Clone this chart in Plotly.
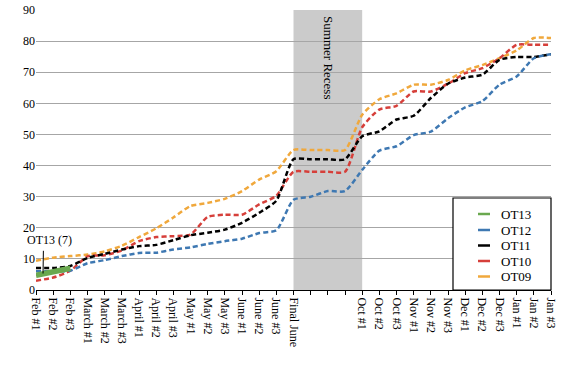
import plotly.graph_objects as go

categories = ["Feb #1", "Feb #2", "Feb #3", "March #1", "March #2", "March #3",
              "April #1", "April #2", "April #3", "May #1", "May #2", "May #3",
              "June #1", "June #2", "June #3", "Final June", " ", "  ", "   ",
              "Oct #1", "Oct #2", "Oct #3", "Nov #1", "Nov #2", "Nov #3",
              "Dec #1", "Dec #2", "Dec #3", "Jan #1", "Jan #2", "Jan #3"]

ot09 = [9.4, 10.4, 10.9, 11.4, 12.4, 14.2, 17.0, 19.8, 23.3, 27.0, 28.0, 29.3,
        31.8, 35.5, 38.2, 45, 45, 45, 45, 56.3, 61.3, 63.2, 66, 66, 67.5,
        70.6, 72.3, 74.5, 77, 81, 81]
ot10 = [3.0, 4.0, 6.2, 10.8, 11.2, 12.7, 15.7, 17.0, 17.3, 17.8, 23.5, 24.2,
        24.2, 27.5, 30.3, 38, 38, 38, 38, 52.3, 58, 59.2, 63.8, 63.8, 66.3,
        69.7, 71.3, 74.5, 78.8, 78.8, 78.8]
ot11 = [7.1, 7.1, 7.7, 10.3, 11.6, 13.0, 14.1, 14.5, 16.0, 17.6, 18.4, 19.4,
        21.6, 24.8, 28.7, 42, 42, 42, 42, 49.4, 51, 54.8, 56, 61.7, 66.3,
        68.3, 69.2, 74, 74.9, 74.9, 75.8]
ot12 = [6.0, 6.0, 6.2, 8.6, 9.6, 10.9, 11.9, 12.0, 13.0, 13.7, 14.8, 15.7,
        16.5, 18.3, 19.2, 29, 30, 31.8, 31.8, 38.6, 44.8, 46.2, 49.8, 50.9, 55.2,
        58.7, 60.7, 66, 68.6, 74.5, 75.8]
ot13 = [4.7, 5.9, 7.0]

series_names = ["OT09", "OT10", "OT11", "OT12"]
series_vals = [ot09, ot10, ot11, ot12]
series_colors = ["#f0a83c", "#d63f3a", "#000000", "#3e78b2"]
ot13_color = "#6aa84f"

legend_names = ["OT13", "OT12", "OT11", "OT10", "OT09"]
legend_colors = [ot13_color, "#3e78b2", "#000000", "#d63f3a", "#f0a83c"]

serif = "Liberation Serif"

# plot area in pixels
PL, PR, PT, PB = 36, 551, 10, 290
PW, PH = PR - PL, PB - PT


def px(x):
    return (x - PL) / PW


def py(y):
    return (PB - y) / PH


fig = go.Figure()
for name, vals, col in zip(series_names, series_vals, series_colors):
    fig.add_trace(go.Scatter(
        x=categories, y=vals, name=name, mode="lines",
        line=dict(color=col, width=2.5, dash="5px,3px", shape="spline", smoothing=0.6),
    ))
fig.add_trace(go.Scatter(
    x=categories[:len(ot13)], y=ot13, name="OT13", mode="lines",
    line=dict(color=ot13_color, width=5.5),
))

# Summer recess band
fig.add_shape(type="rect", xref="x", yref="y", x0=15, x1=19, y0=0, y1=90,
              fillcolor="#cbcbcb", line=dict(width=0), layer="below")
fig.add_annotation(x=17, y=74.6, xref="x", yref="y", text="Summer Recess",
                   textangle=90, showarrow=False,
                   font=dict(family=serif, size=13, color="#000"))

# OT13 callout
fig.add_shape(type="line", xref="x", yref="y", x0=0.43, x1=0.41, y0=12.6, y1=5.3,
              line=dict(color="#000", width=1))
fig.add_annotation(x=0.8, y=16.2, xref="x", yref="y", text="OT13 (7)",
                   showarrow=False, font=dict(family=serif, size=12, color="#000"))

# legend box (drawn manually)
fig.add_shape(type="rect", xref="paper", yref="paper",
              x0=px(453), x1=px(551), y0=0, y1=py(198),
              fillcolor="white", line=dict(color="black", width=1.2), layer="above")
leg_y = [214, 230, 245.5, 261, 276.5]
for nm, col, yy in zip(legend_names, legend_colors, leg_y):
    fig.add_shape(type="line", xref="paper", yref="paper",
                  x0=px(478), x1=px(490), y0=py(yy), y1=py(yy),
                  line=dict(color=col, width=2.5), layer="above")
    fig.add_annotation(xref="paper", yref="paper", x=px(499), y=py(yy),
                       xanchor="left", yanchor="middle", text=nm, showarrow=False,
                       font=dict(family=serif, size=13, color="#000"))

fig.update_layout(
    width=580, height=365,
    margin=dict(l=PL, r=580 - PR, t=PT, b=365 - PB, autoexpand=False),
    paper_bgcolor="white", plot_bgcolor="white",
    showlegend=False,
    xaxis=dict(type="category", range=[0, 30], showgrid=False,
               showline=True, linecolor="black", linewidth=1,
               ticks="outside", ticklen=4, tickcolor="black",
               tickangle=90, tickfont=dict(family=serif, size=12, color="#000"),
               categoryorder="array", categoryarray=categories),
    yaxis=dict(range=[0, 90], dtick=10, showgrid=True, gridcolor="#a6a6a6",
               gridwidth=1, zeroline=False, showline=False, ticks="",
               tickfont=dict(family=serif, size=12, color="#000")),
)

fig.write_html("out.html", config={"displayModeBar": False},
               post_script="document.body.style.margin='0';")
